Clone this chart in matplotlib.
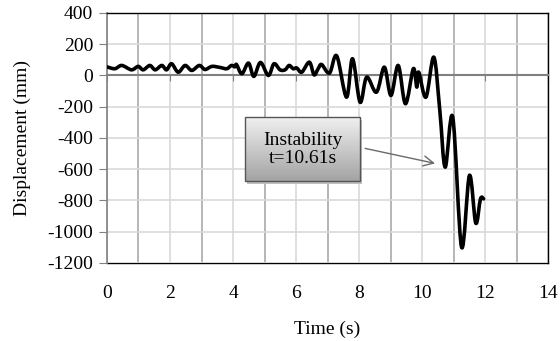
import numpy as np
import matplotlib.pyplot as plt
from matplotlib.path import Path
from matplotlib.patches import PathPatch, Rectangle
from matplotlib.ticker import MultipleLocator

plt.rcParams['font.family'] = ['Liberation Serif', 'DejaVu Serif']
plt.rcParams['font.size'] = 14
plt.rcParams['axes.unicode_minus'] = False

# values (peaks / troughs of the response)
time_s = [0.00, 0.25, 0.47, 0.78, 0.99, 1.15, 1.36, 1.53, 1.74, 1.89,
          2.05, 2.26, 2.48, 2.69, 2.93, 3.11, 3.33, 3.59, 3.80, 3.95,
          4.06, 4.11, 4.28, 4.49, 4.66, 4.87, 5.12, 5.30, 5.49, 5.65,
          5.78, 5.91, 6.02, 6.18, 6.42, 6.57, 6.70, 6.81, 7.06, 7.29,
          7.60, 7.79, 8.03, 8.24, 8.55, 8.80, 9.01, 9.24, 9.47, 9.72,
          9.83, 9.89, 10.12, 10.37, 10.56, 10.73, 10.97, 11.25, 11.50, 11.70,
          11.85, 11.95]
disp_mm = [55, 43, 64, 36, 58, 36, 64, 36, 64, 36,
           75, 21, 64, 32, 64, 38, 58, 51, 43, 64,
           55, 70, 11, 79, -6, 83, 0, 75, 36, 36,
           64, 43, 48, 21, 85, 4, 43, 70, 15, 125,
           -139, 107, -171, -11, -107, 53, -128, 64, -181, 43,
           -75, 21, -139, 117, -224, -587, -267, -1099, -640, -945,
           -790, -790]

x_ticks = list(range(0, 15, 2))
y_ticks = list(range(-1200, 401, 200))
note_text = 'Instability\nt=10.61s'


def smooth_path(x, y):
    # excel-like smoothed line: catmull-rom turned into cubic beziers
    pts = np.column_stack([x, y]).astype(float)
    p = np.vstack([pts[0], pts, pts[-1]])
    verts = [pts[0]]
    codes = [Path.MOVETO]
    for i in range(1, len(p) - 2):
        c1 = p[i] + (p[i + 1] - p[i - 1]) / 6
        c2 = p[i + 1] - (p[i + 2] - p[i]) / 6
        verts += [c1, c2, p[i + 1]]
        codes += [Path.CURVE4] * 3
    return Path(verts, codes)


fig = plt.figure(figsize=(5.6, 3.41), dpi=100)
ax = fig.add_axes([0.191, 0.229, 0.788, 0.733])
ax.set_xlim(0, 14)
ax.set_ylim(-1200, 400)

# grid: even seconds light, odd seconds darker
ax.set_xticks(x_ticks)
ax.xaxis.set_minor_locator(MultipleLocator(1))
ax.set_yticks(y_ticks)
ax.set_yticklabels([str(v) for v in y_ticks])
ax.grid(which='major', axis='x', color='#d9d9d9', lw=1.2)
ax.grid(which='minor', axis='x', color='#a9a9a9', lw=1.2)
ax.grid(which='major', axis='y', color='#d9d9d9', lw=1.2)
ax.set_axisbelow(True)

# x axis crosses at zero
ax.spines['bottom'].set_position(('data', 0))
ax.spines['bottom'].set_color('#808080')
ax.spines['bottom'].set_linewidth(1.5)
ax.spines['left'].set_color('#808080')
ax.spines['left'].set_linewidth(1.2)
for s in ['top', 'right']:
    ax.spines[s].set_color('black')
    ax.spines[s].set_linewidth(1.0)
ax.tick_params(axis='x', which='major', direction='out', length=4, color='#808080',
               labelbottom=False)
ax.tick_params(axis='x', which='minor', length=0)
ax.tick_params(axis='y', direction='out', length=6, color='#808080', pad=4)

# labels sit on the bottom frame
sec = ax.secondary_xaxis('bottom')
sec.set_xticks(x_ticks)
sec.xaxis.set_minor_locator(MultipleLocator(100))
sec.tick_params(axis='x', length=0, pad=16)
sec.spines['bottom'].set_color('black')
sec.spines['bottom'].set_linewidth(1.0)
sec.set_xlabel('Time (s)', labelpad=13)

ax.set_ylabel('Displacement (mm)', labelpad=12)

ax.add_patch(PathPatch(smooth_path(time_s, disp_mm), fill=False, lw=2.6,
                       edgecolor='black', capstyle='round', joinstyle='round',
                       zorder=3))

# annotation box with grey gradient
bx0, bx1, by0, by1 = 4.38, 8.03, -678, -269
grad = np.linspace(0.94, 0.64, 100).reshape(-1, 1)
ax.imshow(grad, cmap='gray', vmin=0, vmax=1, extent=[bx0, bx1, by0, by1],
          aspect='auto', origin='upper', zorder=4)
ax.add_patch(Rectangle((bx0 + 0.06, by0 - 14), bx1 - bx0, by1 - by0,
                       facecolor='#bfbfbf', edgecolor='none', zorder=3.9))
ax.add_patch(Rectangle((bx0, by0), bx1 - bx0, by1 - by0, fill=False,
                       edgecolor='#555555', lw=1.0, zorder=5))
ax.text((bx0 + bx1) / 2, (by0 + by1) / 2, note_text, ha='center', va='center',
        linespacing=1.1, zorder=6)
ax.annotate('', xy=(10.41, -563), xytext=(bx1 + 0.16, -467),
            arrowprops=dict(arrowstyle='->', color='#6a6a6a', lw=1.0,
                            mutation_scale=18, shrinkA=0, shrinkB=0),
            zorder=6)

ax.set_xlim(0, 14)
ax.set_ylim(-1200, 400)

fig.savefig('out.png', dpi=100)
